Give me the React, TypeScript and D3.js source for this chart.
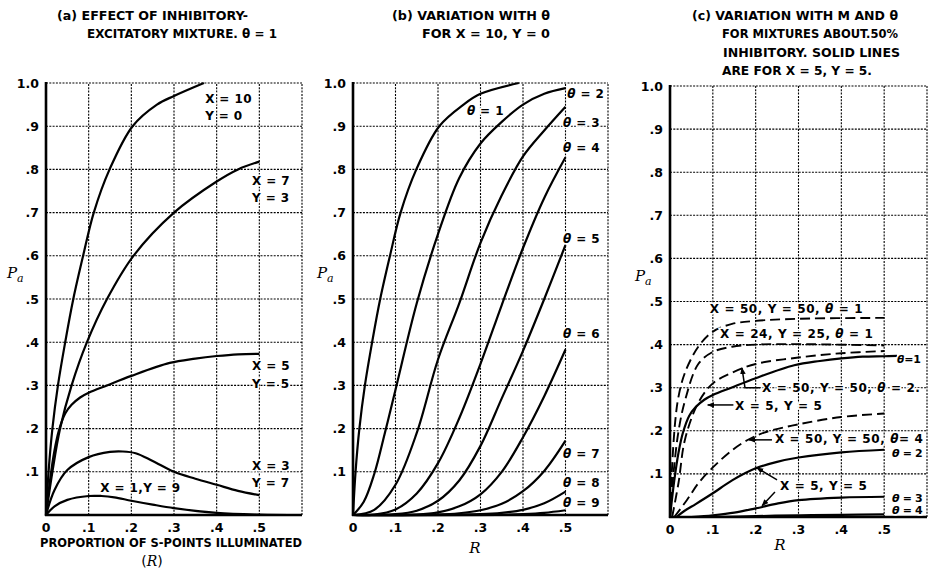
import React from "react";
import * as d3 from "d3";

type Pt = [number, number];

// ---- axes ----
const gridX = [0.1, 0.2, 0.3, 0.4, 0.5, 0.6];
const gridY = [0.1, 0.2, 0.3, 0.4, 0.5, 0.6, 0.7, 0.8, 0.9, 1.0];
const tickX = [0, 0.1, 0.2, 0.3, 0.4, 0.5];
const tickXLabels = ["0", ".1", ".2", ".3", ".4", ".5"];
const tickY = [0.1, 0.2, 0.3, 0.4, 0.5, 0.6, 0.7, 0.8, 0.9, 1.0];
const tickYLabels = [".1", ".2", ".3", ".4", ".5", ".6", ".7", ".8", ".9", "1.0"];

// ---- titles ----
const titleA = ["(a) EFFECT OF INHIBITORY-", "EXCITATORY MIXTURE. θ = 1"];
const titleB = ["(b) VARIATION WITH θ", "FOR X = 10, Y = 0"];
const titleC = [
  "(c) VARIATION WITH M AND θ",
  "FOR MIXTURES ABOUT.50%",
  "INHIBITORY. SOLID LINES",
  "ARE FOR X = 5, Y = 5.",
];

// ---- panel (a): theta = 1, various X/Y mixtures ----
const aX10Y0: Pt[] = [[0, 0], [0.006, 0.1], [0.015, 0.2], [0.028, 0.3], [0.045, 0.4], [0.064, 0.5], [0.087, 0.6], [0.112, 0.7], [0.149, 0.8], [0.203, 0.9], [0.26, 0.95], [0.3, 0.97], [0.37, 1.0]];
const aX7Y3: Pt[] = [[0, 0], [0.015, 0.1], [0.033, 0.2], [0.06, 0.3], [0.096, 0.4], [0.143, 0.5], [0.205, 0.6], [0.3, 0.7], [0.4, 0.772], [0.45, 0.8], [0.5, 0.818]];
const aX5Y5: Pt[] = [[0, 0], [0.01, 0.085], [0.02, 0.15], [0.03, 0.195], [0.045, 0.235], [0.06, 0.255], [0.08, 0.272], [0.1, 0.283], [0.143, 0.3], [0.2, 0.322], [0.29, 0.352], [0.35, 0.362], [0.4, 0.368], [0.45, 0.372], [0.5, 0.373]];
const aX3Y7: Pt[] = [[0, 0], [0.02, 0.058], [0.05, 0.104], [0.1, 0.134], [0.15, 0.146], [0.18, 0.147], [0.21, 0.143], [0.25, 0.125], [0.3, 0.1], [0.35, 0.084], [0.4, 0.07], [0.45, 0.056], [0.5, 0.046]];
const aX1Y9: Pt[] = [[0, 0], [0.02, 0.02], [0.05, 0.035], [0.1, 0.044], [0.13, 0.044], [0.16, 0.041], [0.2, 0.033], [0.25, 0.024], [0.3, 0.016], [0.4, 0.005], [0.5, 0.001], [0.6, 0]];

// ---- panel (b): X = 10, Y = 0, theta = 1..9 ----
const bTheta1: Pt[] = [[0, 0], [0.006, 0.1], [0.015, 0.2], [0.028, 0.3], [0.045, 0.4], [0.064, 0.5], [0.087, 0.6], [0.112, 0.7], [0.149, 0.8], [0.203, 0.9], [0.26, 0.95], [0.3, 0.975], [0.39, 1.0]];
const bTheta2: Pt[] = [[0, 0], [0.025, 0.03], [0.05, 0.095], [0.075, 0.19], [0.1, 0.29], [0.15, 0.49], [0.2, 0.65], [0.25, 0.78], [0.3, 0.86], [0.35, 0.91], [0.4, 0.95], [0.45, 0.975], [0.5, 0.988]];
const bTheta3: Pt[] = [[0, 0], [0.05, 0.012], [0.1, 0.07], [0.15, 0.19], [0.2, 0.36], [0.25, 0.49], [0.3, 0.63], [0.35, 0.74], [0.4, 0.83], [0.45, 0.89], [0.5, 0.945]];
const bTheta4: Pt[] = [[0, 0], [0.05, 0.001], [0.1, 0.013], [0.15, 0.05], [0.2, 0.12], [0.25, 0.224], [0.3, 0.35], [0.35, 0.486], [0.4, 0.618], [0.45, 0.734], [0.5, 0.828]];
const bTheta5: Pt[] = [[0, 0], [0.1, 0.002], [0.15, 0.01], [0.2, 0.033], [0.25, 0.08], [0.3, 0.16], [0.35, 0.27], [0.4, 0.38], [0.45, 0.5], [0.5, 0.625]];
const bTheta6: Pt[] = [[0, 0], [0.15, 0.001], [0.2, 0.006], [0.25, 0.02], [0.3, 0.048], [0.35, 0.1], [0.4, 0.18], [0.45, 0.275], [0.5, 0.383]];
const bTheta7: Pt[] = [[0, 0], [0.2, 0.001], [0.25, 0.004], [0.3, 0.011], [0.35, 0.026], [0.4, 0.055], [0.45, 0.102], [0.5, 0.172]];
const bTheta8: Pt[] = [[0, 0], [0.3, 0.002], [0.35, 0.005], [0.4, 0.012], [0.45, 0.027], [0.5, 0.054]];
const bTheta9: Pt[] = [[0, 0], [0.35, 0.0005], [0.4, 0.002], [0.45, 0.005], [0.5, 0.011]];

// ---- panel (c): about 50% inhibitory ----
const cX50Y50T1: Pt[] = [[0, 0], [0.004, 0.1], [0.012, 0.22], [0.02, 0.28], [0.035, 0.335], [0.066, 0.395], [0.1, 0.43], [0.145, 0.448], [0.2, 0.455], [0.3, 0.46], [0.5, 0.462]];
const cX24Y25T1: Pt[] = [[0, 0], [0.008, 0.1], [0.02, 0.2], [0.035, 0.27], [0.066, 0.355], [0.1, 0.383], [0.145, 0.395], [0.2, 0.4], [0.3, 0.401], [0.5, 0.398]];
const cX50Y50T2: Pt[] = [[0.005, 0], [0.02, 0.08], [0.035, 0.18], [0.066, 0.265], [0.1, 0.31], [0.145, 0.335], [0.2, 0.355], [0.3, 0.37], [0.4, 0.38], [0.5, 0.385]];
const cX50Y50T4: Pt[] = [[0.01, 0], [0.04, 0.04], [0.066, 0.078], [0.1, 0.115], [0.145, 0.155], [0.18, 0.178], [0.22, 0.196], [0.3, 0.215], [0.4, 0.232], [0.5, 0.24]];
const cX5Y5T1: Pt[] = [[0, 0], [0.01, 0.085], [0.02, 0.15], [0.03, 0.195], [0.045, 0.235], [0.06, 0.255], [0.08, 0.272], [0.1, 0.283], [0.143, 0.3], [0.2, 0.322], [0.29, 0.352], [0.35, 0.362], [0.4, 0.368], [0.45, 0.372], [0.5, 0.373], [0.53, 0.374]];
const cX5Y5T2: Pt[] = [[0.015, 0], [0.035, 0.015], [0.06, 0.03], [0.1, 0.055], [0.145, 0.085], [0.2, 0.113], [0.25, 0.128], [0.3, 0.138], [0.4, 0.15], [0.5, 0.156]];
const cX5Y5T3: Pt[] = [[0.05, 0], [0.1, 0.004], [0.15, 0.01], [0.2, 0.02], [0.25, 0.031], [0.3, 0.039], [0.4, 0.045], [0.5, 0.047]];
const cX5Y5T4: Pt[] = [[0.1, 0], [0.2, 0.002], [0.3, 0.004], [0.4, 0.005], [0.5, 0.006]];

// curve labels: [text, R, Pa] (text start, baseline)
type Lab = [string, number, number];
const labelsA: Lab[] = [
  ["X = 10", 0.373, 0.954], ["Y = 0", 0.373, 0.914],
  ["X = 7", 0.483, 0.764], ["Y = 3", 0.483, 0.725],
  ["X = 5", 0.483, 0.336], ["Y = 5", 0.483, 0.294],
  ["X = 3", 0.483, 0.104], ["Y = 7", 0.483, 0.065],
  ["X = 1,Y = 9", 0.127, 0.053],
];
const labelsB: Lab[] = [
  ["θ = 1", 0.268, 0.926], ["θ = 2", 0.504, 0.965], ["θ = 3", 0.494, 0.898],
  ["θ = 4", 0.494, 0.84], ["θ = 5", 0.494, 0.63], ["θ = 6", 0.494, 0.41],
  ["θ = 7", 0.494, 0.132], ["θ = 8", 0.494, 0.065], ["θ = 9", 0.494, 0.019],
];
const labelsC: Lab[] = [
  ["X = 50, Y = 50, θ = 1", 0.093, 0.473],
  ["X = 24, Y = 25, θ = 1", 0.117, 0.415],
  ["θ=1", 0.53, 0.357],
  ["X = 50, Y = 50, θ = 2.", 0.215, 0.29],
  ["X = 5, Y = 5", 0.152, 0.248],
  ["X = 50, Y = 50, θ= 4", 0.245, 0.172],
  ["θ = 2", 0.518, 0.139],
  ["X = 5, Y = 5", 0.257, 0.063],
  ["θ = 3", 0.518, 0.035],
  ["θ = 4", 0.518, 0.007],
];
// pointer arrows in (c): polyline in (R, Pa), head at last point
const arrowsC: Pt[][] = [
  [[0.21, 0.3], [0.175, 0.3], [0.168, 0.346]],
  [[0.148, 0.26], [0.088, 0.26]],
  [[0.238, 0.179], [0.184, 0.179]],
  [[0.25, 0.086], [0.203, 0.114]],
  [[0.245, 0.058], [0.215, 0.026]],
];

const FONT = "'DejaVu Sans', 'Liberation Sans', sans-serif";
const SERIF = "'DejaVu Serif', serif";

function Rich({ s }: { s: string }) {
  const parts = s.split("θ");
  return (
    <>
      {parts.map((p, i) => (
        <React.Fragment key={i}>
          {i > 0 && <tspan fontStyle="italic">θ</tspan>}
          {p}
        </React.Fragment>
      ))}
    </>
  );
}

type Frame = { left: number; right: number; bottom: number; top: number };
type Curve = { data: Pt[]; dashed?: boolean };
type TitleLine = { x: number; y: number; w: number };

function Panel(props: {
  frame: Frame;
  curves: Curve[];
  labels: Lab[];
  title: string[];
  titlePos: TitleLine[];
  arrows?: Pt[][];
  yLabelX: number;
  compact: boolean;
  xTitle: React.ReactNode;
}) {
  const { frame, curves, labels, title, titlePos, arrows = [], yLabelX, compact, xTitle } = props;
  const x = d3.scaleLinear().domain([0, 0.6]).range([frame.left, frame.right]);
  const y = d3.scaleLinear().domain([0, 1]).range([frame.bottom, frame.top]);
  const line = d3
    .line<Pt>()
    .x((d) => x(d[0]))
    .y((d) => y(d[1]))
    .curve(d3.curveCatmullRom.alpha(0.5));
  const straight = d3
    .line<Pt>()
    .x((d) => x(d[0]))
    .y((d) => y(d[1]));
  const labelY = (y(0.5) + y(0.6)) / 2;

  return (
    <g fontFamily={FONT} fontWeight="bold">
      {title.map((t, i) => (
        <text key={i} x={titlePos[i].x} y={titlePos[i].y} fontSize={12.5}
          textLength={titlePos[i].w} lengthAdjust="spacingAndGlyphs">
          {t}
        </text>
      ))}
      {/* dotted grid */}
      {gridY.map((v) => (
        <line key={"gy" + v} x1={x(0)} x2={x(0.6)} y1={y(v)} y2={y(v)}
          stroke="#000" strokeWidth={1.1} strokeDasharray="2,1.3" />
      ))}
      {gridX.map((v) => (
        <line key={"gx" + v} x1={x(v)} x2={x(v)} y1={y(0)} y2={y(1)}
          stroke="#000" strokeWidth={1.1} strokeDasharray="2,1.3" />
      ))}
      {/* solid axes */}
      <line x1={x(0)} x2={x(0)} y1={y(0) + 1} y2={y(1) - 1} stroke="#000" strokeWidth={2.6} />
      <line x1={x(0) - 1} x2={x(0.6)} y1={y(0)} y2={y(0)} stroke="#000" strokeWidth={2.6} />
      {/* tick labels */}
      {tickY.map((v, i) => (
        <text key={"ty" + v} x={x(0) - 7} y={y(v)} dy="0.36em" textAnchor="end" fontSize={12.5}>
          {tickYLabels[i]}
        </text>
      ))}
      {tickX.map((v, i) => (
        <text key={"tx" + v} x={x(v)} y={y(0) + 17} textAnchor="middle" fontSize={12.5}>
          {tickXLabels[i]}
        </text>
      ))}
      {/* y axis label P with subscript a */}
      <text x={yLabelX} y={labelY + 1} fontFamily={SERIF} fontStyle="italic" fontWeight="normal" fontSize={15}>
        P
      </text>
      <text x={yLabelX + 10} y={labelY + 5} fontFamily={SERIF} fontStyle="italic" fontWeight="normal" fontSize={11}>
        a
      </text>
      {xTitle}
      {/* curves */}
      {curves.map((c, i) => (
        <path key={"c" + i} d={line(c.data) || ""} fill="none" stroke="#000"
          strokeWidth={c.dashed ? 1.9 : 2.2} strokeDasharray={c.dashed ? "10,5" : undefined} />
      ))}
      {arrows.map((a, i) => (
        <path key={"a" + i} d={straight(a) || ""} fill="none" stroke="#000"
          strokeWidth={1.5} markerEnd="url(#head)" />
      ))}
      {labels.map(([t, r, p], i) => {
        const short = t.length <= 5;
        const size = compact && short ? 11 : 12;
        const spacing = compact ? (short ? -0.3 : 0.6) : 0.4;
        return (
          <text key={"l" + i} x={x(r)} y={y(p)} fontSize={size} letterSpacing={spacing}
            stroke="#fff" strokeWidth={3} paintOrder="stroke" fill="#000">
            <Rich s={t} />
          </text>
        );
      })}
    </g>
  );
}

export default function App() {
  const frameA = { left: 46, right: 302, bottom: 515, top: 83 };
  const frameB = { left: 353, right: 608, bottom: 515, top: 83 };
  const frameC = { left: 670, right: 927, bottom: 517, top: 86 };

  return (
    <svg width={930} height={569} style={{ position: "absolute", left: 0, top: 0, background: "#fff" }}>
      <defs>
        <marker id="head" viewBox="0 0 10 10" refX="9" refY="5" markerWidth="7" markerHeight="7"
          orient="auto-start-reverse" markerUnits="userSpaceOnUse">
          <path d="M0,1 L10,5 L0,9 z" fill="#000" />
        </marker>
      </defs>
      <rect width={930} height={569} fill="#fff" />
      <Panel
        frame={frameA}
        curves={[{ data: aX10Y0 }, { data: aX7Y3 }, { data: aX5Y5 }, { data: aX3Y7 }, { data: aX1Y9 }]}
        labels={labelsA}
        title={titleA}
        titlePos={[{ x: 57, y: 20, w: 191 }, { x: 87, y: 38, w: 190 }]}
        yLabelX={7}
        compact={false}
        xTitle={
          <>
            <text x={40} y={547} fontSize={12.5} textLength={262} lengthAdjust="spacingAndGlyphs">
              PROPORTION OF S-POINTS ILLUMINATED
            </text>
            <text x={152} y={566} textAnchor="middle" fontSize={14} fontWeight="normal">
              (<tspan fontStyle="italic" fontFamily={SERIF}>R</tspan>)
            </text>
          </>
        }
      />
      <Panel
        frame={frameB}
        curves={[bTheta1, bTheta2, bTheta3, bTheta4, bTheta5, bTheta6, bTheta7, bTheta8, bTheta9].map((d) => ({ data: d }))}
        labels={labelsB}
        title={titleB}
        titlePos={[{ x: 392, y: 20, w: 158 }, { x: 422, y: 38, w: 128 }]}
        yLabelX={317}
        compact={false}
        xTitle={
          <text x={475} y={553} textAnchor="middle" fontSize={15} fontWeight="normal"
            fontStyle="italic" fontFamily={SERIF}>R</text>
        }
      />
      <Panel
        frame={frameC}
        curves={[
          { data: cX50Y50T1, dashed: true },
          { data: cX24Y25T1, dashed: true },
          { data: cX50Y50T2, dashed: true },
          { data: cX50Y50T4, dashed: true },
          { data: cX5Y5T1 },
          { data: cX5Y5T2 },
          { data: cX5Y5T3 },
          { data: cX5Y5T4 },
        ]}
        labels={labelsC}
        arrows={arrowsC}
        title={titleC}
        titlePos={[
          { x: 692, y: 20, w: 206 },
          { x: 722, y: 38, w: 176 },
          { x: 723, y: 57, w: 177 },
          { x: 722, y: 75, w: 150 },
        ]}
        yLabelX={635}
        compact={true}
        xTitle={
          <text x={780} y={550} textAnchor="middle" fontSize={15} fontWeight="normal"
            fontStyle="italic" fontFamily={SERIF}>R</text>
        }
      />
    </svg>
  );
}
